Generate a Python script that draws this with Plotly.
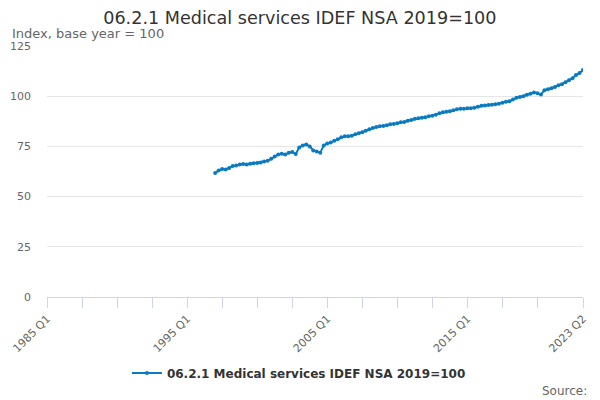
import plotly.graph_objects as go

# quarterly categories 1985 Q1 .. 2023 Q2
quarters = [f"{y} Q{q}" for y in range(1985, 2024) for q in range(1, 5)]
quarters = quarters[:quarters.index("2023 Q2") + 1]

first_quarter = "1997 Q1"
index_values = [
    61.7, 63.0, 63.7, 63.5,    # 1997
    64.3, 65.2, 65.5, 66.0,    # 1998
    66.2, 66.0, 66.3, 66.6,    # 1999
    66.7, 67.0, 67.5, 67.8,    # 2000
    68.8, 70.0, 71.0, 71.3,    # 2001
    71.0, 71.8, 72.2, 71.2,    # 2002
    74.5, 75.5, 76.0, 75.0,    # 2003
    73.0, 72.5, 71.8, 75.5,    # 2004
    76.5, 77.0, 77.8, 78.5,    # 2005
    79.5, 80.0, 80.0, 80.3,    # 2006
    81.0, 81.5, 82.0, 82.8,    # 2007
    83.5, 84.2, 84.6, 85.0,    # 2008
    85.2, 85.5, 86.0, 86.2,    # 2009
    86.5, 87.0, 87.2, 87.8,    # 2010
    88.2, 88.8, 89.0, 89.3,    # 2011
    89.5, 90.0, 90.3, 90.8,    # 2012
    91.5, 92.0, 92.2, 92.5,    # 2013
    93.0, 93.5, 93.8, 93.8,    # 2014
    94.0, 94.0, 94.2, 94.8,    # 2015
    95.2, 95.4, 95.6, 95.8,    # 2016
    96.0, 96.3, 96.8, 97.2,    # 2017
    97.5, 98.3, 99.2, 99.6,    # 2018
    100.0, 100.7, 101.2, 101.8,  # 2019
    101.5, 100.8, 103.0, 103.5,  # 2020
    104.0, 104.6, 105.5, 106.0,  # 2021
    107.0, 108.0, 109.0, 110.5,  # 2022
    111.5, 113.0,              # 2023
]
series_x = quarters[quarters.index(first_quarter):]

tick_quarters = quarters[::10][:-1] + ["2023 Q2"]
labelled = ["1985 Q1", "1995 Q1", "2005 Q1", "2015 Q1", "2023 Q2"]
tick_text = [q if q in labelled else "" for q in tick_quarters]

title = "06.2.1 Medical services IDEF NSA 2019=100"
font = "DejaVu Sans"

# page body has an 8px margin, so the figure is a little smaller than the window
fig = go.Figure()
fig.add_trace(go.Scatter(
    x=series_x, y=index_values,
    mode="lines+markers",
    name=title,
    line=dict(color="#0a7bc1", width=2),
    marker=dict(size=4, color="#0a7bc1"),
))

fig.update_layout(
    width=592, height=392,
    margin=dict(l=39, r=17, t=38, b=95),
    paper_bgcolor="white", plot_bgcolor="white",
    font=dict(family=font, color="#666666", size=11),
    title=dict(text=title, x=0.493, xanchor="center", y=0.976, yanchor="middle",
               font=dict(size=17.6, color="#333333")),
    showlegend=True,
    legend=dict(orientation="h", x=0.47, xanchor="center", y=-0.303, yanchor="middle",
                font=dict(size=12, color="#333333", weight="bold")),
    annotations=[
        dict(text="Index, base year = 100", xref="paper", yref="paper",
             x=-0.069, y=1.05, xanchor="left", yanchor="middle", showarrow=False,
             font=dict(size=13, color="#666666")),
        dict(text="Source:", xref="paper", yref="paper",
             x=1.012, y=-0.375, xanchor="right", yanchor="middle", showarrow=False,
             font=dict(size=12, color="#666666")),
    ],
)

fig.update_xaxes(
    type="category", categoryorder="array", categoryarray=quarters,
    range=[0, len(quarters) - 1], automargin=False,
    tickmode="array", tickvals=tick_quarters, ticktext=tick_text,
    tickangle=-45, ticks="outside", ticklen=10, tickcolor="#ccd6eb",
    showline=True, linecolor="#ccd6eb", linewidth=1,
    showgrid=False, tickfont=dict(size=11, color="#666666"),
)
fig.update_yaxes(
    range=[0, 125], tickvals=[0, 25, 50, 75, 100, 125], automargin=False,
    showgrid=True, gridcolor="#e6e6e6", zeroline=False,
    ticklabelstandoff=15, tickfont=dict(size=11, color="#666666"),
)

fig.write_html("out.html")
